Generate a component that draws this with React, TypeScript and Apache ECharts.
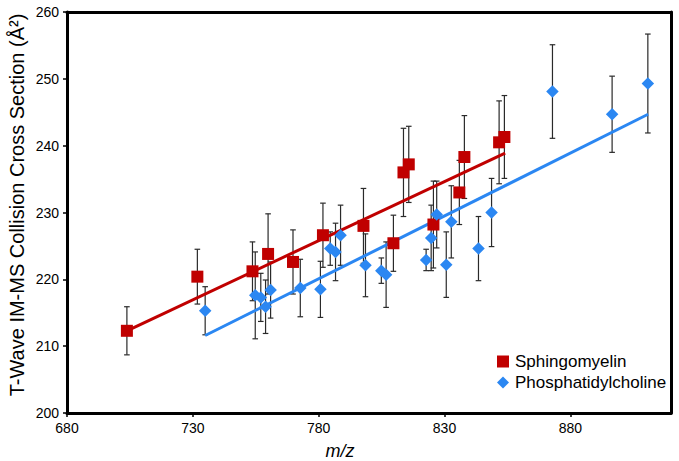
import React, { useEffect, useRef } from "react";
import * as echarts from "echarts";

const xTicksMin = 680;
const xTicksMax = 920;
const yMin = 200;
const yMax = 260;

const smX = [703.8, 731.8, 753.7, 759.9, 769.8, 781.7, 797.8, 809.7, 813.7, 815.8, 825.6, 835.9, 837.9, 851.7, 853.8];
const smY = [212.3, 220.4, 221.2, 223.8, 222.6, 226.6, 228.0, 225.4, 236.0, 237.2, 228.2, 233.0, 238.3, 240.5, 241.3];
const smErr = [3.6, 4.1, 4.4, 6.0, 4.8, 4.8, 5.6, 4.2, 6.6, 5.7, 6.5, 4.8, 6.2, 6.2, 6.2];

const pcX = [734.9, 754.8, 757.0, 758.9, 760.9, 772.7, 780.7, 784.6, 786.7, 788.7, 798.6, 804.9, 806.8, 822.7, 824.7, 826.9, 830.7, 832.7, 843.5, 848.7, 872.9, 896.6, 910.8];
const pcY = [215.3, 217.6, 217.3, 215.9, 218.4, 218.7, 218.5, 224.6, 224.1, 226.6, 222.1, 221.3, 220.7, 222.9, 226.2, 229.7, 222.2, 228.6, 224.6, 230.0, 248.1, 244.7, 249.3];
const pcErr = [3.6, 6.5, 3.6, 4.0, 4.2, 4.3, 4.2, 2.5, 4.3, 4.5, 4.7, 1.9, 4.9, 1.6, 4.9, 5.0, 4.9, 5.4, 4.8, 5.1, 7.0, 5.7, 7.4];

const smTrendX = [703.8, 854.1];
const smTrendY = [212.3, 238.9];
const pcTrendX = [734.9, 910.9];
const pcTrendY = [211.6, 244.7];

const RED = "#C00000";
const BLUE = "#2B87F2";
const FONT = "'Liberation Sans', Arial, Helvetica, sans-serif";

const errRender = (params: any, api: any) => {
  const x = api.value(0);
  const y = api.value(1);
  const e = api.value(2);
  const top = api.coord([x, y + e]);
  const bot = api.coord([x, y - e]);
  const hw = 2.8;
  const st = { stroke: "#2a2a2a", lineWidth: 1.2 };
  return {
    type: "group",
    children: [
      { type: "line", shape: { x1: top[0], y1: top[1], x2: bot[0], y2: bot[1] }, style: st },
      { type: "line", shape: { x1: top[0] - hw, y1: top[1], x2: top[0] + hw, y2: top[1] }, style: st },
      { type: "line", shape: { x1: bot[0] - hw, y1: bot[1], x2: bot[0] + hw, y2: bot[1] }, style: st },
    ],
  };
};

const frameAxis = {
  axisLine: { show: true, lineStyle: { color: "#000", width: 3 } },
  axisTick: { show: false },
  axisLabel: { show: false },
  splitLine: { show: false },
};

export default function App() {
  const ref = useRef<HTMLDivElement>(null);
  useEffect(() => {
    if (!ref.current) return;
    const chart = echarts.init(ref.current, undefined, { renderer: "svg" });
    const smData = smX.map((x, i) => [x, smY[i]]);
    const pcData = pcX.map((x, i) => [x, pcY[i]]);
    const smErrData = smX.map((x, i) => [x, smY[i], smErr[i]]);
    const pcErrData = pcX.map((x, i) => [x, pcY[i], pcErr[i]]);
    chart.setOption({
      animation: false,
      backgroundColor: "#fff",
      textStyle: { fontFamily: FONT },
      grid: {
        left: 67,
        right: 8,
        top: 12,
        bottom: 48,
        show: false,
      },
      xAxis: [
        {
          type: "value",
          min: xTicksMin,
          max: xTicksMax,
          interval: 50,
          axisLine: { show: true, lineStyle: { color: "#000", width: 3 } },
          axisTick: { show: true, inside: false, length: 4, lineStyle: { color: "#000", width: 1.5 } },
          splitLine: { show: false },
          axisLabel: { color: "#000", fontSize: 14, margin: 8, fontFamily: FONT, showMaxLabel: false },
        },
        { type: "value", position: "top", min: xTicksMin, max: xTicksMax, interval: 50, ...frameAxis },
      ],
      yAxis: [
        {
          type: "value",
          min: yMin,
          max: yMax,
          interval: 10,
          axisLine: { show: true, lineStyle: { color: "#000", width: 3 } },
          axisTick: { show: true, inside: false, length: 4, lineStyle: { color: "#000", width: 1.5 } },
          splitLine: { show: false },
          axisLabel: { color: "#000", fontSize: 14, margin: 8, fontFamily: FONT },
        },
        { type: "value", position: "right", min: yMin, max: yMax, interval: 10, ...frameAxis },
      ],
      legend: {
        data: ["Sphingomyelin", "Phosphatidylcholine"],
        orient: "vertical",
        left: 492,
        top: 348,
        itemWidth: 12,
        itemHeight: 12,
        itemGap: 4,
        textStyle: { color: "#000", fontSize: 17, fontFamily: FONT, padding: [0, 0, 0, 1] },
      },
      graphic: [
        {
          type: "text",
          x: 17,
          y: 205,
          rotation: Math.PI / 2,
          style: {
            text: "T-Wave IM-MS Collision Cross Section (Å²)",
            fontSize: 20,
            fontFamily: FONT,
            fill: "#000",
            align: "center",
            verticalAlign: "middle",
          },
        },
        {
          type: "text",
          x: 340,
          y: 451,
          style: {
            text: "m/z",
            fontSize: 18,
            fontStyle: "italic",
            fontFamily: FONT,
            fill: "#000",
            align: "center",
            verticalAlign: "middle",
          },
        },
      ],
      series: [
        {
          name: "SM error",
          type: "custom",
          renderItem: errRender,
          data: smErrData,
          encode: { x: 0, y: 1 },
          z: 1,
          silent: true,
        },
        {
          name: "PC error",
          type: "custom",
          renderItem: errRender,
          data: pcErrData,
          encode: { x: 0, y: 1 },
          z: 1,
          silent: true,
        },
        {
          name: "SM fit",
          type: "line",
          data: smTrendX.map((x, i) => [x, smTrendY[i]]),
          symbol: "none",
          lineStyle: { color: RED, width: 3 },
          z: 2,
          silent: true,
        },
        {
          name: "PC fit",
          type: "line",
          data: pcTrendX.map((x, i) => [x, pcTrendY[i]]),
          symbol: "none",
          lineStyle: { color: BLUE, width: 3 },
          z: 2,
          silent: true,
        },
        {
          name: "Sphingomyelin",
          type: "scatter",
          data: smData,
          symbol: "rect",
          symbolSize: 12,
          itemStyle: { color: RED, opacity: 1 },
          z: 3,
        },
        {
          name: "Phosphatidylcholine",
          type: "scatter",
          data: pcData,
          symbol: "diamond",
          symbolSize: 12.5,
          itemStyle: { color: BLUE, opacity: 1 },
          z: 4,
        },
      ],
    });
    return () => chart.dispose();
  }, []);
  return (
    <div
      ref={ref}
      style={{ position: "fixed", left: 0, top: 0, width: 679, height: 461, background: "#fff" }}
    />
  );
}
